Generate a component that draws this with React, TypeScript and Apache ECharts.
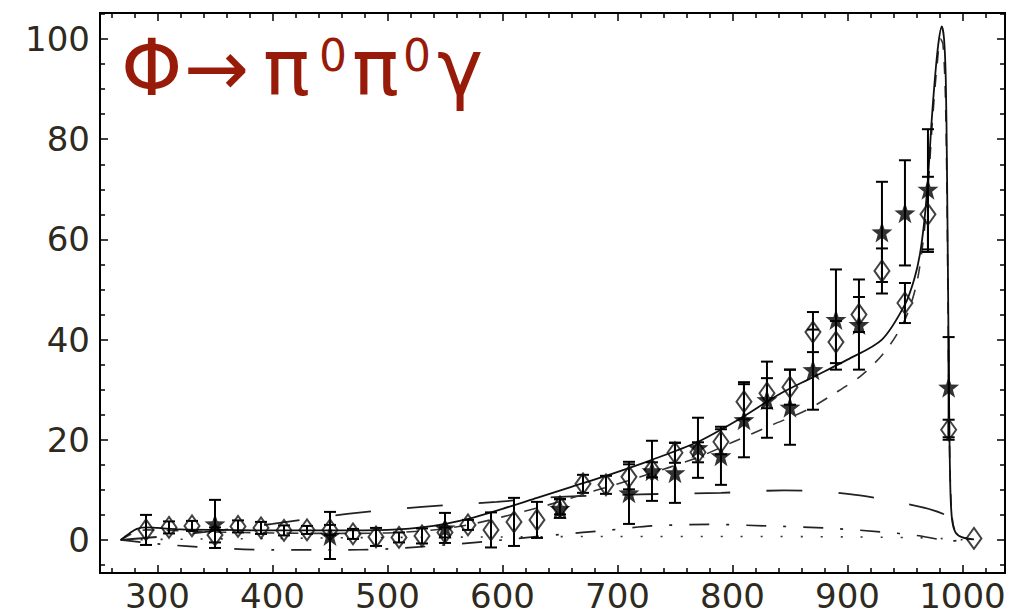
import React, { useEffect, useRef } from "react";
import * as echarts from "echarts";

// ---- data ----
const diamondX = [290, 310, 330, 350, 370, 390, 410, 430, 450, 470, 490, 510, 530, 550, 570, 590, 610, 630, 650, 670, 690, 710, 730, 750, 770, 790, 810, 830, 850, 870, 890, 910, 930, 950, 970, 988, 1010];
const diamondY = [2.0, 2.5, 2.8, 1.0, 2.7, 2.4, 1.9, 2.0, 2.0, 1.2, 0.6, 0.5, 0.8, 1.5, 3.0, 2.0, 3.6, 4.0, 6.6, 11.2, 11.0, 12.6, 14.0, 17.4, 17.5, 19.6, 27.6, 29.3, 30.5, 41.5, 39.5, 45.0, 53.7, 47.3, 65.0, 22.0, 0.3];
const diamondErr = [3.0, 1.2, 1.0, 1.5, 1.2, 1.2, 1.0, 0.8, 1.0, 1.0, 1.8, 1.0, 1.5, 1.0, 1.0, 3.5, 4.8, 3.6, 1.5, 1.8, 1.8, 2.5, 1.5, 2.0, 2.0, 2.5, 3.5, 3.0, 3.5, 4.0, 4.2, 3.5, 4.5, 4.0, 7.5, 2.0, 0];

const starX = [350, 450, 550, 650, 710, 730, 750, 770, 790, 810, 830, 850, 870, 890, 910, 930, 950, 970, 988];
const starY = [3.2, 0.9, 2.4, 6.3, 9.4, 13.8, 13.4, 18.4, 16.8, 24.0, 28.0, 26.5, 34.0, 44.0, 43.0, 61.5, 65.3, 70.0, 30.5];
const starErr = [4.8, 4.7, 3.0, 1.9, 6.2, 6.0, 6.0, 6.0, 5.8, 7.5, 7.6, 7.5, 8.0, 10.0, 9.0, 10.0, 10.5, 12.0, 10.0];

const solidCurve = [[268, 0], [275, 1.2], [282, 2.2], [290, 2.5], [300, 2.4], [320, 2.1], [360, 2.0], [400, 1.9], [450, 1.9], [500, 2.0], [540, 2.8], [570, 4.2], [600, 6.2], [630, 8.4], [660, 10.6], [690, 12.8], [730, 16.0], [770, 19.6], [805, 24.0], [840, 29.0], [870, 32.5], [900, 36.0], [930, 40.0], [950, 47.0], [958, 52], [963, 57], [967, 64], [970, 72], [973, 83], [976, 92], [979, 99], [982, 102.5], [984, 100], [985.5, 92], [986.5, 75], [987.5, 50], [988.5, 25], [989.5, 10], [991, 4], [994, 1.5], [1000, 0.5], [1010, 0.1]];
const dashedTotal = [[268, 0], [280, 1.5], [290, 2.0], [310, 1.9], [350, 1.6], [400, 1.4], [450, 1.3], [500, 1.4], [540, 2.0], [570, 3.0], [600, 4.6], [640, 7.0], [680, 9.8], [720, 12.6], [770, 16.5], [800, 19.5], [835, 23.0], [865, 26.0], [887, 29.0], [913, 33.0], [934, 38.0], [950, 44.0], [960, 51], [966, 60], [970, 70], [974, 84], [978, 95], [981, 100], [983, 99], [985, 90], [986.5, 70], [987.5, 45], [988.5, 22], [990, 8], [992, 3], [996, 1], [1005, 0.2]];
const longDashed = [[268, 0], [300, 0.6], [350, 1.8], [400, 3.2], [465, 5.2], [530, 6.6], [595, 7.6], [650, 8.6], [720, 9.1], [790, 9.4], [845, 9.9], [900, 9.2], [950, 7.3], [985, 5.0], [993, 2.0], [1000, 0.3], [1005, 0]];
const dashDot = [[268, 0], [300, -0.8], [350, -1.6], [400, -2.0], [450, -2.0], [500, -1.8], [550, -1.0], [600, 0.0], [650, 1.1], [690, 1.9], [730, 2.8], [780, 3.1], [830, 2.8], [880, 2.4], [930, 1.6], [960, 0.9], [980, 0.1], [990, -0.2], [1000, 0]];
const dotted = [[268, 0], [300, 0.1], [400, 0.3], [500, 0.5], [600, 0.6], [700, 0.7], [800, 0.7], [900, 0.6], [960, 0.45], [990, 0.2], [1000, 0.05], [1005, 0]];

const xMajor = [300, 400, 500, 600, 700, 800, 900, 1000];
const xMinor = [260, 280, 320, 340, 360, 380, 420, 440, 460, 480, 520, 540, 560, 580, 620, 640, 660, 680, 720, 740, 760, 780, 820, 840, 860, 880, 920, 940, 960, 980, 1020];
const yMajor = [0, 20, 40, 60, 80, 100];
const yMinor = [-5, 5, 10, 15, 25, 30, 35, 45, 50, 55, 65, 70, 75, 85, 90, 95, 105];

const X_MIN = 250;
const X_MAX = 1037;
const Y_MIN = -6.6;
const Y_MAX = 105.2;

const STAR = "path://M0,-10 L2.35,-3.24 9.51,-3.09 3.8,1.24 5.88,8.09 0,4 -5.88,8.09 -3.8,1.24 -9.51,-3.09 -2.35,-3.24Z";

const labelColor = "#2e2a1e";
const titleColor = "#981a08";
const FONT = "DejaVu Sans";

function makeX(position: string, ticks: number[], len: number, labels: boolean) {
  return {
    type: "value",
    min: X_MIN,
    max: X_MAX,
    position,
    axisLine: { show: true, onZero: false, lineStyle: { color: "#000", width: 2 } },
    axisTick: { show: true, inside: true, length: len, customValues: ticks, lineStyle: { color: "#000", width: 1.5 } },
    axisLabel: labels
      ? { show: true, customValues: ticks, color: labelColor, fontFamily: FONT, fontSize: 34, margin: 6, formatter: (v: number) => String(v) }
      : { show: false },
    splitLine: { show: false },
  };
}
function makeY(position: string, ticks: number[], len: number, labels: boolean) {
  return {
    type: "value",
    min: Y_MIN,
    max: Y_MAX,
    position,
    axisLine: { show: true, onZero: false, lineStyle: { color: "#000", width: 2 } },
    axisTick: { show: true, inside: true, length: len, customValues: ticks, lineStyle: { color: "#000", width: 1.5 } },
    axisLabel: labels
      ? { show: true, customValues: ticks, color: labelColor, fontFamily: FONT, fontSize: 34, margin: 10, formatter: (v: number) => String(v) }
      : { show: false },
    splitLine: { show: false },
  };
}

function errorSeries(xs: number[], ys: number[], es: number[]) {
  return {
    type: "custom",
    xAxisIndex: 0,
    yAxisIndex: 0,
    z: 3,
    data: xs.map((x, i) => [x, ys[i], es[i]]),
    encode: { x: 0, y: 1 },
    renderItem: (params: any, api: any) => {
      const x = api.value(0);
      const y = api.value(1);
      const e = api.value(2);
      if (!e) return { type: "group", children: [] };
      const top = api.coord([x, y + e]);
      const bot = api.coord([x, y - e]);
      const w = 6;
      const st = { stroke: "#000", lineWidth: 2 };
      return {
        type: "group",
        children: [
          { type: "line", shape: { x1: top[0], y1: top[1], x2: bot[0], y2: bot[1] }, style: st },
          { type: "line", shape: { x1: top[0] - w, y1: top[1], x2: top[0] + w, y2: top[1] }, style: st },
          { type: "line", shape: { x1: bot[0] - w, y1: bot[1], x2: bot[0] + w, y2: bot[1] }, style: st },
        ],
      };
    },
  };
}

function lineSeries(data: number[][], type: any, width: number, color: string) {
  return {
    type: "line",
    xAxisIndex: 0,
    yAxisIndex: 0,
    data,
    showSymbol: false,
    symbol: "none",
    smooth: 0.3,
    z: 2,
    lineStyle: { color, width, type },
  };
}

export default function App() {
  const ref = useRef<HTMLDivElement>(null);
  useEffect(() => {
    document.body.style.margin = "0";
    if (!ref.current) return;
    const chart = echarts.init(ref.current, undefined, { renderer: "svg" });
    const mainTop = 95 - 0.346 * 78 - 39;
    const supTop = 55 - 22;
    const t = (left: number, top: number, text: string, size: number) => ({
      type: "text",
      left,
      top,
      style: { text, fill: titleColor, fontSize: size, fontFamily: FONT },
      z: 10,
    });
    chart.setOption({
      animation: false,
      backgroundColor: "#fff",
      grid: { left: 100, right: 10, top: 13, bottom: 43, containLabel: false },
      xAxis: [
        makeX("bottom", xMajor, 8, true),
        makeX("bottom", xMinor, 5, false),
        makeX("top", xMajor, 8, false),
        makeX("top", xMinor, 5, false),
      ],
      yAxis: [
        makeY("left", yMajor, 8, true),
        makeY("left", yMinor, 5, false),
        makeY("right", yMajor, 8, false),
        makeY("right", yMinor, 5, false),
      ],
      series: [
        lineSeries(dotted, [2, 18], 1.6, "#333"),
        lineSeries(dashDot, [20, 17, 3, 17], 1.7, "#222"),
        lineSeries(longDashed, [36, 36], 1.8, "#222"),
        lineSeries(dashedTotal, [12, 12], 1.6, "#333"),
        lineSeries(solidCurve, "solid", 1.8, "#111"),
        errorSeries(diamondX, diamondY, diamondErr),
        errorSeries(starX, starY, starErr),
        {
          type: "scatter",
          xAxisIndex: 0,
          yAxisIndex: 0,
          z: 4,
          data: diamondX.map((x, i) => [x, diamondY[i]]),
          symbol: "diamond",
          symbolSize: [15, 21],
          itemStyle: { color: "rgba(0,0,0,0)", borderColor: "#111", borderWidth: 2 },
        },
        {
          type: "scatter",
          xAxisIndex: 0,
          yAxisIndex: 0,
          z: 5,
          data: starX.map((x, i) => [x, starY[i]]),
          symbol: STAR,
          symbolSize: 21,
          itemStyle: { color: "#000" },
        },
      ],
      graphic: [
        t(121, mainTop, "Φ", 78),
        t(184, mainTop, "→", 78),
        t(263, mainTop, "π", 78),
        t(319, supTop, "0", 44),
        t(352, mainTop, "π", 78),
        t(403, supTop, "0", 44),
        t(437, mainTop, "γ", 78),
      ],
    });
    return () => chart.dispose();
  }, []);
  return <div ref={ref} style={{ width: 1015, height: 616 }} />;
}
